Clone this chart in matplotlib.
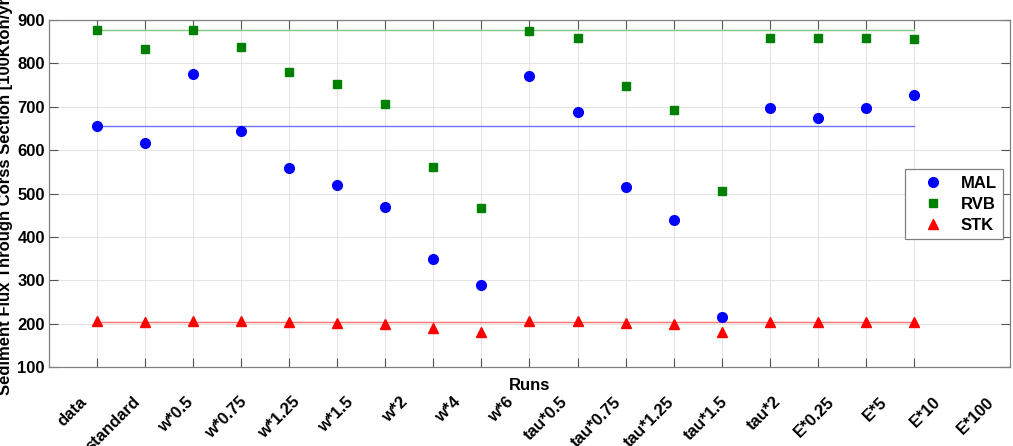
"""Sediment flux through cross section for each model run"""
import matplotlib
matplotlib.use("Agg")
import matplotlib.pyplot as plt
import matplotlib.transforms as mtransforms

runs = ["data", "standard", "w*0.5", "w*0.75", "w*1.25", "w*1.5", "w*2",
        "w*4", "w*6", "tau*0.5", "tau*0.75", "tau*1.25", "tau*1.5", "tau*2",
        "E*0.25", "E*5", "E*10", "E*100"]
run_idx = list(range(1, len(runs) + 1))

mal = [655, 617, 775, 645, 559, 520, 469, 348, 290, 770,
       689, 515, 440, 216, 698, 674, 698, 728]
rvb = [877, 833, 878, 837, 781, 752, 707, 562, 466, 874,
       858, 749, 692, 506, 858, 858, 858, 857]
stk = [207, 205, 207, 207, 203, 201, 200, 191, 180, 207,
       207, 202, 200, 180, 205, 205, 205, 205]

# measured ("data") values drawn as reference lines
mal_ref = 655
rvb_ref = 877
stk_ref = 205

plt.rcParams['font.family'] = ['Liberation Sans', 'DejaVu Sans']
plt.rcParams['font.weight'] = 'bold'

fig = plt.figure(figsize=(10.13, 4.46), dpi=100)
ax = fig.add_axes([0.0484, 0.177, 0.9486, 0.778])

ax.plot([run_idx[0], run_idx[-1]], [mal_ref, mal_ref], color='#7070ff', lw=1.0, zorder=2)
ax.plot([run_idx[0], run_idx[-1]], [rvb_ref, rvb_ref], color='#80c880', lw=1.0, zorder=2)
ax.plot([run_idx[0], run_idx[-1]], [stk_ref, stk_ref], color='#ff7070', lw=1.0, zorder=2)

ax.plot(run_idx, mal, 'o', color='#0000ff', ms=7, ls='none', label='MAL', zorder=3)
ax.plot(run_idx, rvb, 's', color='#008000', ms=5.5, ls='none', label='RVB', zorder=3)
ax.plot(run_idx, stk, '^', color='#ff0000', ms=7, ls='none', label='STK', zorder=3)

ax.set_xlim(0, 20)
ax.set_ylim(100, 900)
ax.set_xticks(run_idx)
ax.set_xticklabels([])
ax.set_yticks(range(100, 901, 100))
ax.grid(True, color='#e4e4e4', lw=0.8)
ax.set_axisbelow(True)
ax.tick_params(direction='in', top=True, right=True, length=6.5, width=0.8,
               color='#555555', labelsize=12, pad=3)
for lab in ax.get_yticklabels():
    lab.set_fontweight('bold')
for s in ax.spines.values():
    s.set_color('#808080')
    s.set_linewidth(0.9)

# run names sit on their own, slightly wider spacing than the ticks
trans = mtransforms.blended_transform_factory(ax.transData, ax.transAxes)
step = 20 / len(runs)
for i, name in enumerate(runs):
    ax.text(0.625 + step * i, -0.078, name, transform=trans, rotation=45,
            rotation_mode='anchor', ha='right', va='top', fontsize=12,
            fontweight='bold')

ax.text(0.5, -0.052, "Runs", transform=ax.transAxes, ha='center', va='center',
        fontsize=12, fontweight='bold')
ax.set_ylabel("Sediment Flux Through Corss Section [100Kton/yr]", fontsize=12,
              fontweight='bold', labelpad=3)

leg = ax.legend(loc='upper right', bbox_to_anchor=(0.993, 0.57), borderaxespad=0,
                fancybox=False, framealpha=1, edgecolor='#808080',
                prop={'weight': 'bold', 'size': 12}, handlelength=2.6,
                handletextpad=0.35, labelspacing=0.35, borderpad=0.4)
leg.get_frame().set_linewidth(0.9)

fig.savefig("out.png", dpi=100)
